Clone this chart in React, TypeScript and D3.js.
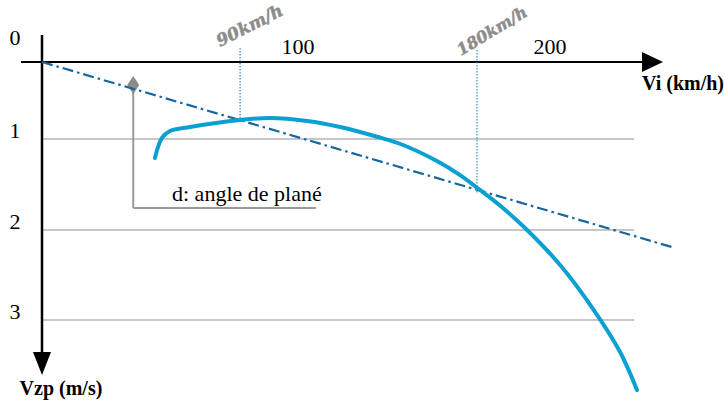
import React from "react";
import * as d3 from "d3";

// Polar curve: indicated speed (km/h) vs sink rate (m/s)
const speeds = [44.8, 47.6, 50.8, 58.7, 78.6, 90.5, 105.2, 118.3, 133.3, 143.3, 156.7, 165.9, 173.8, 182.9, 192.5, 205.6, 218.7, 229.4, 236.1];
const sinkRates = [1.209, 0.987, 0.896, 0.844, 0.753, 0.727, 0.766, 0.844, 0.974, 1.066, 1.242, 1.396, 1.56, 1.758, 2.0, 2.389, 2.878, 3.356, 3.778];

// Tangent (glide angle) line
const tangentSpeeds = [0, 250];
const tangentSinks = [0, 2.19];

// Marked speeds on the curve
const markerSpeeds = [78.6, 172.6];
const markerSinks = [0.755, 1.6];
const markerLabels = ["90km/h", "180km/h"];

const xTickValues = [100, 200];
const yTickValues = [1, 2, 3];
const gridMaxSpeed = 235;

const W = 724;
const H = 405;

export default function App() {
  const x = d3.scaleLinear().domain([0, 200]).range([42, 546]);
  const y = d3.scaleLinear().domain([0, 1, 2, 3]).range([62, 139, 230, 320]);

  const pts: [number, number][] = speeds.map((s, i) => [s, sinkRates[i]]);
  const curve = d3
    .line<[number, number]>()
    .x((d) => x(d[0]))
    .y((d) => y(d[1]))
    .curve(d3.curveCatmullRom.alpha(0.5))(pts);

  const tangent = d3
    .line<number>()
    .x((d) => x(d))
    .y((_, i) => y(tangentSinks[i]))(tangentSpeeds);

  const serif = "Liberation Serif, Times New Roman, serif";
  const x0 = x(0);
  const y0 = y(0);
  const mx = x(36.2);
  const my = y(0.3);

  return (
    <svg width={W} height={H} style={{ position: "absolute", left: 0, top: 0, background: "#fff" }}>
      {/* gridlines */}
      {yTickValues.map((v) => (
        <line key={"g" + v} x1={x0} x2={x(gridMaxSpeed)} y1={y(v)} y2={y(v)} stroke="#b5b5b5" strokeWidth={1.5} />
      ))}

      {/* axes */}
      <line x1={21} x2={645} y1={y0} y2={y0} stroke="#000" strokeWidth={2.2} />
      <path d={`M${642},${y0 - 10} L${663},${y0} L${642},${y0 + 10} Z`} fill="#000" />
      <line x1={x0} x2={x0} y1={35} y2={355} stroke="#000" strokeWidth={2.5} />
      <path d={`M${x0 - 9},${352} L${x0},${375} L${x0 + 9},${352} Z`} fill="#000" />

      {/* tick labels */}
      <text x={15} y={45} fontFamily={serif} fontSize={22} textAnchor="middle">0</text>
      {yTickValues.map((v) => (
        <text key={"yl" + v} x={15} y={y(v) - 1} fontFamily={serif} fontSize={22} textAnchor="middle">
          {v}
        </text>
      ))}
      {xTickValues.map((v) => (
        <text key={"xl" + v} x={x(v) + 4} y={54} fontFamily={serif} fontSize={22} textAnchor="middle">
          {v}
        </text>
      ))}

      {/* axis titles */}
      <text x={683} y={90} fontFamily={serif} fontSize={20} fontWeight="bold" textAnchor="middle">Vi (km/h)</text>
      <text x={61} y={395} fontFamily={serif} fontSize={20} fontWeight="bold" textAnchor="middle">Vzp (m/s)</text>

      {/* glide angle annotation */}
      <line x1={mx} x2={mx} y1={my} y2={208} stroke="#9a9a9a" strokeWidth={2} />
      <line x1={mx} x2={x(108.7)} y1={208} y2={208} stroke="#9a9a9a" strokeWidth={2} />
      <path d={`M${mx},${my - 9} L${mx + 6},${my} L${mx},${my + 9} L${mx - 6},${my} Z`} fill="#8a8a8a" />
      <text x={172} y={201} fontFamily={serif} fontSize={22}>d: angle de plané</text>

      {/* marker dotted lines */}
      {markerSpeeds.map((s, i) => (
        <line
          key={"m" + i}
          x1={x(s)}
          x2={x(s)}
          y1={i === 0 ? 48 : 50}
          y2={y(markerSinks[i])}
          stroke="#2d8fd0"
          strokeWidth={1.2}
          strokeDasharray="1.5,1.5"
        />
      ))}
      {markerSpeeds.map((s, i) => {
        const bx = x(s) - (i === 0 ? 20 : 16);
        const by = i === 0 ? 47 : 56;
        return (
          <text
            key={"ml" + i}
            transform={`translate(${bx},${by}) rotate(${i === 0 ? -27 : -31})`}
            fontFamily="DejaVu Serif, serif"
            fontStyle="italic"
            fontWeight="bold"
            fontSize={i === 0 ? 17 : 16}
            fill="#8c8c8c"
            stroke="#8c8c8c"
            strokeWidth={0.5}
          >
            {markerLabels[i]}
          </text>
        );
      })}

      {/* tangent line */}
      <path d={tangent || ""} fill="none" stroke="#15679d" strokeWidth={2.2} strokeDasharray="11,4,2.5,4" />

      {/* polar curve */}
      <path d={curve || ""} fill="none" stroke="#0aa0d2" strokeWidth={4} strokeLinecap="round" />
    </svg>
  );
}
